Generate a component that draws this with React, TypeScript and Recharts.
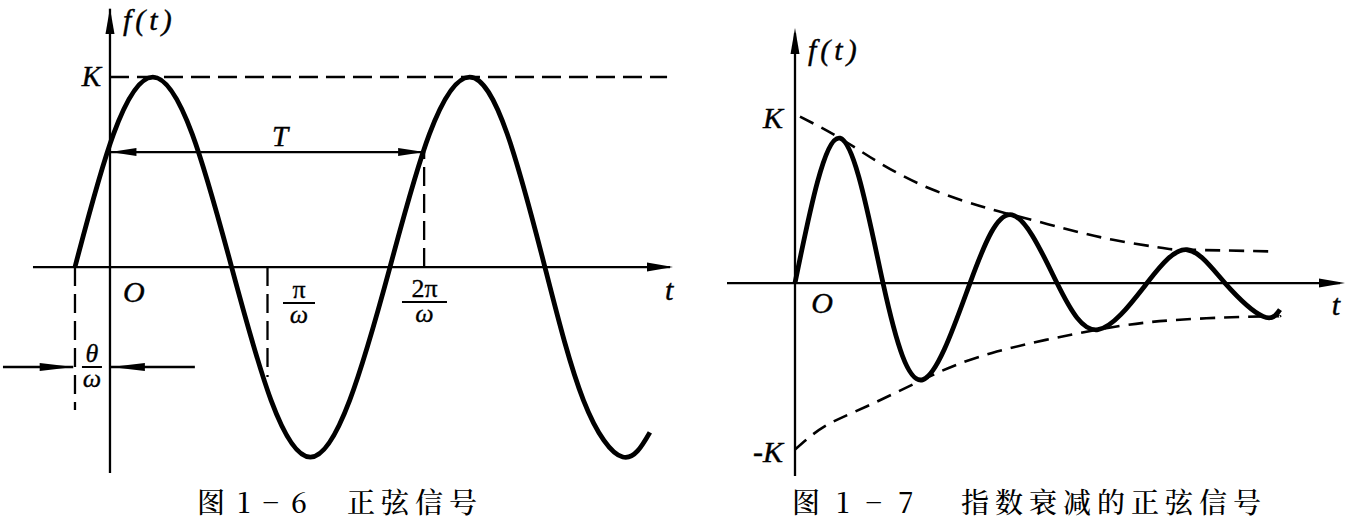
import { LineChart, Line, XAxis, YAxis, ReferenceLine, ReferenceDot } from "recharts";

// 图 1-6 正弦信号: t in degrees of ωt, value in units of K
const sineT = [-40, 4, 49, 94, 139, 184, 229, 274, 320, 365, 411, 454, 497, 541, 586, 617];
const sineV = [0, 0.7, 1, 0.7, 0, -0.7, -1, -0.7, 0, 0.7, 1, 0.7, 0, -0.7, -1, -0.87];
const theta = 40; // θ (deg)
const halfPeriod = 180; // π/ω
const period = 359; // 2π/ω
const tLevel = 0.605; // level of the T arrow

// 图 1-7 指数衰减的正弦信号
const dampT = [0, 0.9, 1.76, 2.56, 3.5, 4.34, 5.24, 6.06, 7.04, 7.84, 8.6, 9.36, 9.7];
const dampV = [0, 0.87, 0, -0.58, 0, 0.41, 0, -0.28, 0, 0.2, 0, -0.2, -0.16];
const upperT = [0.1, 0.9, 1.7, 2.76, 3.84, 4.34, 5.36, 6.36, 7.36, 7.84, 9.5];
const upperV = [1.0, 0.87, 0.72, 0.56, 0.45, 0.41, 0.33, 0.26, 0.21, 0.2, 0.19];
const lowerT = [0, 0.6, 1.44, 2.56, 3.94, 6.06, 7.7, 9.36, 9.7];
const lowerV = [-1.0, -0.86, -0.74, -0.58, -0.42, -0.28, -0.22, -0.2, -0.2];

const zip = (t: number[], v: number[]) => t.map((x, i) => ({ t: x, v: v[i] }));

const MATH = '"Liberation Serif", "DejaVu Serif", serif';
const CJK = '"Noto Serif CJK SC", "Liberation Serif", "Noto Sans CJK SC", sans-serif';

type Dir = "up" | "right" | "left";

const arrow = (dir: Dir, len = 26, half = 4.5) => (p: any) => {
  const { cx, cy } = p;
  let pts = "";
  if (dir === "up") pts = `${cx},${cy} ${cx - half},${cy + len} ${cx + half},${cy + len}`;
  if (dir === "right") pts = `${cx},${cy} ${cx - len},${cy - half} ${cx - len},${cy + half}`;
  if (dir === "left") pts = `${cx},${cy} ${cx + len},${cy - half} ${cx + len},${cy + half}`;
  return <polygon points={pts} fill="#000" />;
};

const txt =
  (s: string, size = 30, anchor: "start" | "middle" | "end" = "middle", italic = true, spacing = 0) =>
  (p: any) => (
    <text
      x={p.cx}
      y={p.cy}
      fontSize={size}
      fontFamily={MATH}
      fontStyle={italic ? "italic" : "normal"}
      textAnchor={anchor}
      letterSpacing={spacing}
      stroke="#000"
      strokeWidth={0.4}
      fill="#000"
    >
      {s}
    </text>
  );

// fraction drawn as one text element (two tspans) plus the bar
const frac = (num: string, den: string, w: number, numItalic = false) => (p: any) => {
  const { cx, cy } = p;
  return (
    <g>
      <line x1={cx - w / 2} x2={cx + w / 2} y1={cy} y2={cy} stroke="#000" strokeWidth={2} />
      <text fill="#000" fontFamily={MATH} fontSize={26} stroke="#000" strokeWidth={0.3} textAnchor="middle">
        <tspan x={cx} y={cy - 5} fontStyle={numItalic ? "italic" : "normal"}>
          {num}
        </tspan>
        <tspan x={cx} y={cy + 20} fontStyle="italic">
          {den}
        </tspan>
      </text>
    </g>
  );
};

const mark = (key: string, x: number, y: number, shape: (p: any) => JSX.Element) => (
  <ReferenceDot key={key} x={x} y={y} r={1} ifOverflow="visible" shape={shape} />
);

const seg = (key: string, x1: number, y1: number, x2: number, y2: number, dashed = false, w = 2.3) => (
  <ReferenceLine
    key={key}
    segment={[
      { x: x1, y: y1 },
      { x: x2, y: y2 },
    ]}
    stroke="#000"
    strokeWidth={w}
    strokeDasharray={dashed ? "19 8" : undefined}
    ifOverflow="visible"
  />
);

function SineChart() {
  return (
    <LineChart width={690} height={519} margin={{ top: 6, right: 17, left: 2, bottom: 46 }}>
      <XAxis type="number" dataKey="t" domain={[-123.4, 643.4]} allowDataOverflow hide />
      <YAxis type="number" dataKey="v" domain={[-1.084, 1.374]} allowDataOverflow hide />
      {seg("yaxis", 0, -1.084, 0, 1.36)}
      {mark("yarrow", 0, 1.363, arrow("up"))}
      {seg("xaxis", -88, 0, 640, 0)}
      {mark("xarrow", 643.4, 0, arrow("right"))}
      {seg("kline", 0, 1, 636.6, 1, true, 2.6)}
      {seg("tline", 0, tLevel, period, tLevel)}
      {mark("tl", 0.5, tLevel, arrow("left", 26, 4))}
      {mark("tr", period, tLevel, arrow("right", 26, 4))}
      {seg("p2", period, 0, period, tLevel, true)}
      {seg("p1", halfPeriod, 0, halfPeriod, -0.579, true)}
      {seg("th", -theta, 0, -theta, -0.753, true)}
      {seg("ta1", -122.3, -0.526, -42, -0.526)}
      {mark("ta1h", -41.5, -0.526, arrow("right", 34, 4))}
      {seg("ta2", 97, -0.526, 1, -0.526)}
      {mark("ta2h", 1, -0.526, arrow("left", 34, 4))}
      {mark("lf", 14.9, 1.247, txt("f(t)", 30, "start", true, 4))}
      {mark("lk", -10.3, 0.953, txt("K", 29, "end"))}
      {mark("lT", 194.3, 0.637, txt("T", 29))}
      {mark("lO", 27.4, -0.184, txt("O", 30))}
      {mark("lt", 638.9, -0.174, txt("t", 30))}
      {mark("fpi", 216, -0.189, frac("π", "ω", 32))}
      {mark("f2pi", 359.4, -0.184, frac("2π", "ω", 45))}
      {mark("fth", -20.6, -0.526, frac("θ", "ω", 20, true))}
      <Line
        data={zip(sineT, sineV)}
        dataKey="v"
        type="natural"
        stroke="#000"
        strokeWidth={4.8}
        dot={false}
        isAnimationActive={false}
      />
    </LineChart>
  );
}

function DampedChart() {
  return (
    <LineChart width={656} height={519} margin={{ top: 26, right: 11, left: 22, bottom: 43 }}>
      <XAxis type="number" dataKey="t" domain={[-1.46, 11]} allowDataOverflow hide />
      <YAxis type="number" dataKey="v" domain={[-1.159, 1.544]} allowDataOverflow hide />
      {seg("yaxis", 0, -1.159, 0, 1.5)}
      {mark("yarrow", 0, 1.532, arrow("up"))}
      {seg("xaxis", -1.36, 0, 10.9, 0)}
      {mark("xarrow", 11, 0, arrow("right"))}
      {mark("lf", 0.26, 1.339, txt("f(t)", 30, "start", true, 4))}
      {mark("lk", -0.24, 0.931, txt("K", 30, "end"))}
      {mark("lmk", -0.24, -1.075, txt("-K", 30, "end"))}
      {mark("lO", 0.54, -0.18, txt("O", 30))}
      {mark("lt", 10.82, -0.192, txt("t", 30))}
      <Line
        data={zip(upperT, upperV)}
        dataKey="v"
        type="natural"
        stroke="#000"
        strokeWidth={2.6}
        strokeDasharray="15 9"
        dot={false}
        isAnimationActive={false}
      />
      <Line
        data={zip(lowerT, lowerV)}
        dataKey="v"
        type="natural"
        stroke="#000"
        strokeWidth={2.6}
        strokeDasharray="15 9"
        dot={false}
        isAnimationActive={false}
      />
      <Line
        data={zip(dampT, dampV)}
        dataKey="v"
        type="natural"
        stroke="#000"
        strokeWidth={4.8}
        dot={false}
        isAnimationActive={false}
      />
    </LineChart>
  );
}

const caption: React.CSSProperties = {
  position: "absolute",
  top: 486,
  fontFamily: CJK,
  fontSize: 28,
  lineHeight: "30px",
  fontWeight: 500,
  color: "#000",
  whiteSpace: "pre",
};

export default function App() {
  return (
    <div style={{ position: "absolute", left: 0, top: 0, width: 1356, height: 519, background: "#fff" }}>
      <div style={{ position: "absolute", left: 0, top: 0 }}>
        <SineChart />
      </div>
      <div style={{ position: "absolute", left: 700, top: 0 }}>
        <DampedChart />
      </div>
      <div style={{ ...caption, left: 197, letterSpacing: 2.5 }}>图 1 − 6</div>
      <div style={{ ...caption, left: 347, letterSpacing: 6 }}>正弦信号</div>
      <div style={{ ...caption, left: 792, letterSpacing: 4.5 }}>图 1 − 7</div>
      <div style={{ ...caption, left: 961, letterSpacing: 6 }}>指数衰减的正弦信号</div>
    </div>
  );
}
